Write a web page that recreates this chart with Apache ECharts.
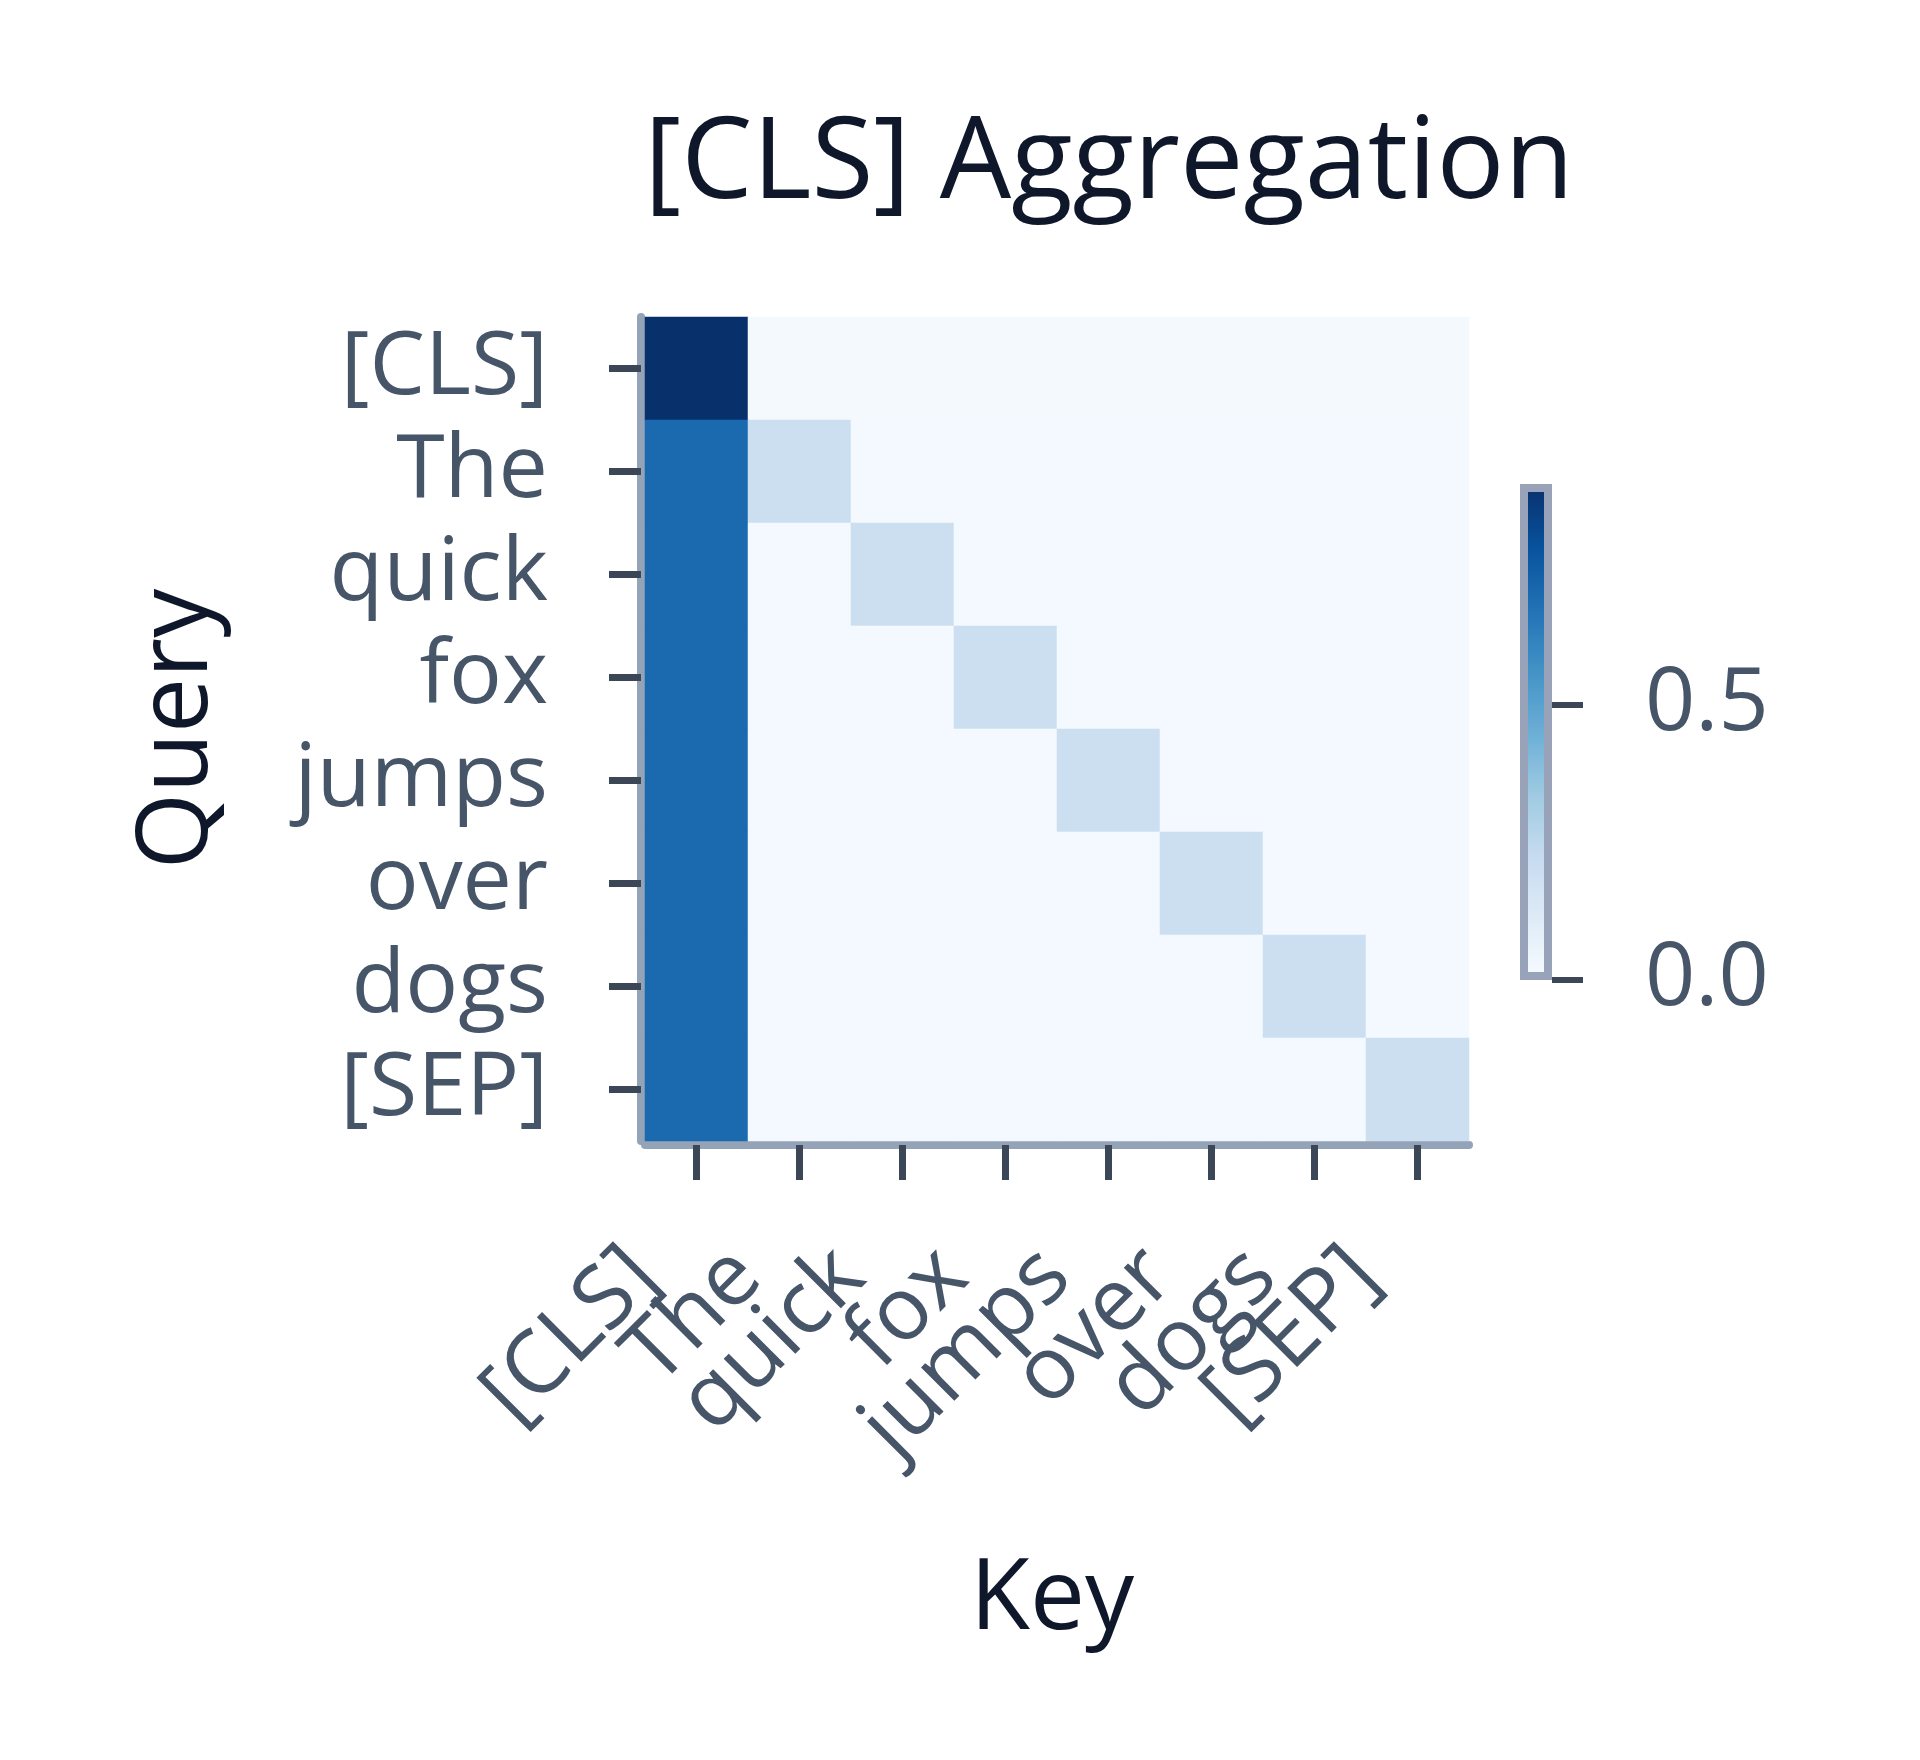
<!DOCTYPE html>
<html>
<head>
<meta charset="utf-8">
<script src="https://cdn.jsdelivr.net/npm/echarts@6/dist/echarts.min.js"></script>
<style>
  html, body { margin: 0; padding: 0; background: #fff; }
  #chart { width: 1920px; height: 1760px; }
</style>
</head>
<body>
<div id="chart"></div>
<script>
// Tokens on both axes
const tokens = ['[CLS]', 'The', 'quick', 'fox', 'jumps', 'over', 'dogs', '[SEP]'];

// Attention weights, one row per query token (row = Query, column = Key)
const attnCLS   = [0.9, 0.014, 0.014, 0.014, 0.014, 0.014, 0.014, 0.014];
const attnThe   = [0.7, 0.2, 0.017, 0.017, 0.017, 0.017, 0.017, 0.017];
const attnQuick = [0.7, 0.017, 0.2, 0.017, 0.017, 0.017, 0.017, 0.017];
const attnFox   = [0.7, 0.017, 0.017, 0.2, 0.017, 0.017, 0.017, 0.017];
const attnJumps = [0.7, 0.017, 0.017, 0.017, 0.2, 0.017, 0.017, 0.017];
const attnOver  = [0.7, 0.017, 0.017, 0.017, 0.017, 0.2, 0.017, 0.017];
const attnDogs  = [0.7, 0.017, 0.017, 0.017, 0.017, 0.017, 0.2, 0.017];
const attnSEP   = [0.7, 0.017, 0.017, 0.017, 0.017, 0.017, 0.017, 0.2];
const rows = [attnCLS, attnThe, attnQuick, attnFox, attnJumps, attnOver, attnDogs, attnSEP];

// Colour bar range and ticks
const colorMin = 0;
const colorMax = 0.9;
const colorTicks = [0, 0.5];

// Blues colour scale, light to dark
const blues = ['#f7fbff', '#deebf7', '#c6dbef', '#9ecae1', '#6baed6',
               '#4292c6', '#2171b5', '#08519c', '#08306b'];

const FONT = '"Open Sans", "Noto Sans", sans-serif';
const axisLineColor = '#94a3b8';
const tickColor = '#3b4657';
const labelColor = '#475569';
const titleColor = '#0f172a';

const heatData = [];
rows.forEach((row, qi) => {
  row.forEach((v, ki) => heatData.push([ki, qi, v]));
});

const chart = echarts.init(document.getElementById('chart'), null, { renderer: 'canvas' });

const gradient = new echarts.graphic.LinearGradient(0, 0, 0, 1,
  blues.slice().reverse().map((c, i) => ({ offset: i / (blues.length - 1), color: c })));

const option = {
  backgroundColor: '#ffffff',
  animation: false,
  title: {
    text: '[CLS] Aggregation',
    left: 1104,
    top: 104,
    textAlign: 'center',
    textStyle: { fontFamily: FONT, fontSize: 113, fontWeight: 'normal', color: titleColor }
  },
  grid: [
    { left: 645, top: 317, width: 824, height: 824, outerBoundsMode: 'none' },
    // colour bar: outer box including its 8px frame
    { left: 1520, top: 484, width: 32, height: 496, outerBoundsMode: 'none' }
  ],
  xAxis: [
    {
      type: 'category',
      gridIndex: 0,
      data: tokens,
      offset: 4,
      name: 'Key',
      nameLocation: 'middle',
      nameGap: 407,
      nameTextStyle: { fontFamily: FONT, fontSize: 98, color: titleColor, padding: [0, 10, 0, 0] },
      axisLine: { show: true, lineStyle: { color: axisLineColor, width: 8 } },
      axisTick: { show: true, alignWithLabel: true, length: 35, lineStyle: { color: tickColor, width: 7 } },
      axisLabel: {
        interval: 0,
        rotate: 45,
        margin: 170,
        verticalAlign: 'bottom',
        lineHeight: 147,
        fontFamily: FONT,
        fontSize: 88,
        color: labelColor
      },
      splitLine: { show: false }
    },
    {
      type: 'category',
      gridIndex: 1,
      data: ['bar'],
      show: false
    }
  ],
  yAxis: [
    {
      type: 'category',
      gridIndex: 0,
      data: tokens,
      inverse: true,
      offset: 4,
      name: 'Query',
      nameLocation: 'middle',
      nameRotate: 90,
      nameGap: 413,
      nameTextStyle: { fontFamily: FONT, fontSize: 98, color: titleColor },
      axisLine: { show: true, lineStyle: { color: axisLineColor, width: 8 } },
      axisTick: { show: true, alignWithLabel: true, length: 32, lineStyle: { color: tickColor, width: 7 } },
      axisLabel: {
        interval: 0,
        margin: 93,
        fontFamily: FONT,
        fontSize: 88,
        color: labelColor
      },
      splitLine: { show: false }
    },
    {
      type: 'value',
      gridIndex: 1,
      position: 'right',
      min: colorMin,
      max: colorMax,
      offset: 0,
      axisLine: { show: false },
      axisTick: { show: true, length: 31, customValues: colorTicks, lineStyle: { color: tickColor, width: 6 } },
      axisLabel: {
        customValues: colorTicks,
        margin: 93,
        fontFamily: FONT,
        fontSize: 88,
        color: labelColor,
        formatter: v => v.toFixed(1)
      },
      splitLine: { show: false }
    }
  ],
  visualMap: {
    show: false,
    type: 'continuous',
    seriesIndex: 0,
    min: colorMin,
    max: colorMax,
    inRange: { color: blues }
  },
  series: [
    {
      type: 'heatmap',
      xAxisIndex: 0,
      yAxisIndex: 0,
      data: heatData,
      itemStyle: { borderWidth: 0 },
      emphasis: { disabled: true }
    },
    {
      type: 'bar',
      xAxisIndex: 1,
      yAxisIndex: 1,
      data: [colorMax],
      barWidth: 32,
      clip: false,
      silent: true,
      itemStyle: { color: gradient, borderColor: '#98a3b9', borderWidth: 8 }
    }
  ]
};

chart.setOption(option);
</script>
</body>
</html>
